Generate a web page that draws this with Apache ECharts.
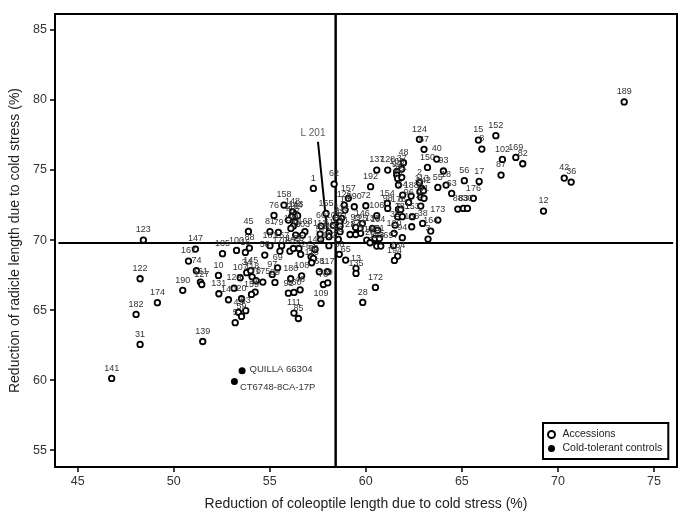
<!DOCTYPE html>
<html><head><meta charset="utf-8">
<script src="https://cdn.jsdelivr.net/npm/echarts@6/dist/echarts.min.js"></script>
<style>html,body{margin:0;padding:0;background:#fff}#c{width:690px;height:522px}</style>
</head><body><div id="c"></div>
<script>
const xTicks = [45,50,55,60,65,70,75];
const yTicks = [55,60,65,70,75,80,85];
const xTitle = 'Reduction of coleoptile length due to cold stress (%)';
const yTitle = 'Reduction of radicle length due to cold stress (%)';
const ids = [141,31,182,122,123,174,190,139,147,167,74,161,127,10,131,185,100,88,16,45,129,140,107,20,43,83,59,5,34,145,118,78,175,19,159,58,
181,157,170,86,149,25,52,144,64,98,116,69,97,89,180,108,91,160,46,109,111,85,68,117,70,29,
1,62,158,76,148,143,44,110,4,47,33,119,81,79,168,103,39,155,60,101,112,61,113,57,162,6,138,11,121,130,126,157,190,14,72,192,137,128,
48,37,165,92,22,71,77,154,98,106,178,8,7,181,153,38,155,35,120,94,146,125,99,73,84,21,133,104,115,26,49,51,123,136,97,184,194,56,66,65,13,135,
124,67,150,40,93,55,18,63,2,113,6,142,9,41,27,54,188,96,56,17,176,88,83,30,15,8,152,102,87,169,82,173,164,3,189,12,42,36,172,28];
const coleoptile = [46.77,48.25,48.04,48.25,48.42,49.15,50.47,51.51,51.13,50.77,51.18,51.39,51.46,52.33,52.35,52.54,53.27,53.94,53.73,53.89,53.14,52.85,53.46,53.53,53.37,53.75,53.53,53.2,53.8,54.01,54.08,54.29,54.64,54.24,54.05,54.74,
55.01,55.62,55.53,56.05,56.23,56.52,56.61,57.36,57.15,57.27,57.18,55.41,55.13,55.27,56.09,56.66,55.97,56.26,56.58,57.67,56.26,56.49,57.58,58.0,57.79,58.02,
57.27,58.35,55.74,55.22,56.19,56.35,56.45,56.14,55.97,56.31,56.23,56.1,55.01,55.45,56.83,56.71,56.35,57.93,57.67,58.31,57.62,58.08,58.08,57.65,58.08,58.45,58.74,58.66,58.66,58.66,58.88,59.09,59.4,58.92,60.0,60.25,60.57,61.14,
61.96,61.87,61.61,61.61,61.66,61.87,61.7,61.12,61.14,60.57,61.7,61.82,61.66,61.9,62.42,62.96,62.39,61.52,61.47,61.9,59.82,59.7,59.47,59.73,59.47,59.18,60.34,60.62,60.05,60.22,60.48,60.71,60.57,60.78,61.44,61.66,61.49,58.57,58.62,58.95,59.49,59.49,
62.79,63.03,63.21,63.69,64.04,63.75,64.18,64.47,62.79,62.91,62.82,63.0,62.86,63.03,62.86,61.92,62.36,62.23,65.13,65.9,65.6,64.79,65.08,65.29,65.86,66.04,66.77,67.11,67.04,67.81,68.17,63.75,63.38,63.24,73.45,69.25,70.33,70.69,60.5,59.84];
const radicle = [60.12,62.55,64.69,67.24,70.0,65.53,66.41,62.76,69.36,68.5,67.81,67.0,66.83,67.48,66.17,69.03,69.26,69.43,69.12,70.62,66.57,65.74,67.31,65.81,64.84,64.96,64.55,64.1,67.67,67.81,67.38,67.1,67.0,66.29,66.12,68.93,
69.6,69.6,69.21,69.21,69.4,69.4,68.98,69.33,68.81,68.69,68.38,68.02,67.55,66.98,67.24,67.45,66.21,66.26,66.45,65.48,64.79,64.4,67.74,67.74,66.83,66.95,
73.69,74.0,72.5,71.76,72.02,71.83,71.74,71.67,71.43,71.31,71.0,70.83,70.6,70.55,70.6,70.36,70.36,71.9,71.0,71.05,70.43,70.52,70.24,70.05,69.6,71.6,71.55,71.31,71.0,70.6,72.5,72.98,72.38,72.14,72.45,73.81,75.0,75.0,
75.52,75.07,74.88,74.64,74.4,74.48,73.93,72.62,72.26,71.74,72.19,72.19,71.67,71.67,71.67,71.19,70.95,71.07,70.48,70.17,71.19,70.83,70.9,70.48,70.4,70.4,70.83,70.71,70.0,69.81,70.12,70.12,69.57,69.57,69.62,68.86,68.55,70.05,68.98,68.57,67.98,67.62,
77.19,76.48,75.19,75.78,74.93,73.76,73.93,73.33,74.1,73.69,73.45,73.52,73.05,72.98,72.43,73.21,73.14,72.69,74.24,74.19,72.98,72.21,72.26,72.26,77.14,76.5,77.45,75.76,74.64,75.9,75.45,71.43,70.64,70.07,79.86,72.07,74.43,74.14,66.62,65.55];
const controlNames = ['QUILLA 66304','CT6748-8CA-17P'];
const controlX = [53.56,53.16];
const controlY = [60.67,59.9];
const hLineX = [44,76], hLineY = [69.8,69.8];
const vLineX = [58.43,58.43], vLineY = [53.8,86.14];
const pointerX = [57.51,58.0], pointerY = [77.02,70.5];
const pointerName = 'L 201';
const xRange = [43.82,76.2], yRange = [53.8,86.14];

const font = 'Liberation Sans';
const zip = (a,b) => a.map((v,i)=>[v,b[i]]);
const chart = echarts.init(document.getElementById('c'));
const axisBase = {
  type:'value', splitLine:{show:false}, nameLocation:'middle',
  axisLine:{show:true,onZero:false,lineStyle:{color:'#000',width:2}},
  axisTick:{show:true,length:5,lineStyle:{color:'#000',width:1.5}},
  nameTextStyle:{fontFamily:font,fontSize:14,color:'#222'}
};
chart.setOption({
  animation:false, backgroundColor:'#fff',
  grid:{left:55,right:13,top:14,bottom:55,show:true,borderColor:'#000',borderWidth:2,backgroundColor:'transparent'},
  xAxis:Object.assign({},axisBase,{min:xRange[0],max:xRange[1],name:xTitle,nameGap:30,
    axisTick:{...axisBase.axisTick,customValues:xTicks},
    axisLabel:{customValues:xTicks,fontFamily:font,fontSize:12.5,color:'#333',margin:8}}),
  yAxis:Object.assign({},axisBase,{min:yRange[0],max:yRange[1],name:yTitle,nameGap:33,
    axisTick:{...axisBase.axisTick,customValues:yTicks},
    axisLabel:{customValues:yTicks,fontFamily:font,fontSize:12.5,color:'#333',margin:8}}),
  legend:{orient:'vertical',left:543,top:423,itemGap:3,itemWidth:12,itemHeight:7,padding:[6,6,5,4],
    backgroundColor:'#fff',borderColor:'#000',borderWidth:2,borderRadius:0,
    textStyle:{fontFamily:font,fontSize:10.5,color:'#222',padding:[0,0,0,0]},
    data:['Accessions','Cold-tolerant controls']},
  series:[
    {type:'line',data:zip(hLineX,hLineY),showSymbol:false,silent:true,lineStyle:{color:'#000',width:2},z:1},
    {type:'line',data:zip(vLineX,vLineY),showSymbol:false,silent:true,lineStyle:{color:'#000',width:2.5},z:1},
    {type:'line',data:zip(pointerX,pointerY),showSymbol:false,silent:true,lineStyle:{color:'#000',width:2},z:3,
      endLabel:{show:false}},
    {type:'scatter',name:'Accessions',data:coleoptile.map((x,i)=>({value:[x,radicle[i]],id_:ids[i]})),
      symbol:'circle',symbolSize:5.5,z:4,
      itemStyle:{color:'#fff',borderColor:'#000',borderWidth:1.8,opacity:1},
      label:{show:true,position:'top',distance:2,fontFamily:font,fontSize:9,color:'#333',
        formatter:p=>String(ids[p.dataIndex])}},
    {type:'scatter',name:'Cold-tolerant controls',data:zip(controlX,controlY),
      symbol:'circle',symbolSize:7,z:4,itemStyle:{color:'#000',opacity:1},
      label:{show:true,fontFamily:font,fontSize:9.5,color:'#333',
        position:'right',distance:4,
        formatter:p=>controlNames[p.dataIndex]},
      labelLayout:p=>p.dataIndex===1?{dx:-2,dy:6}:{dy:-1}},
    {type:'scatter',name:pointerName,data:[[pointerX[0],pointerY[0]]],symbolSize:0,silent:true,legendHoverLink:false,z:4,
      label:{show:true,position:'top',distance:3,fontFamily:font,fontSize:10,color:'#333',formatter:pointerName,offset:[-5,0]}}
  ]
});
</script></body></html>
